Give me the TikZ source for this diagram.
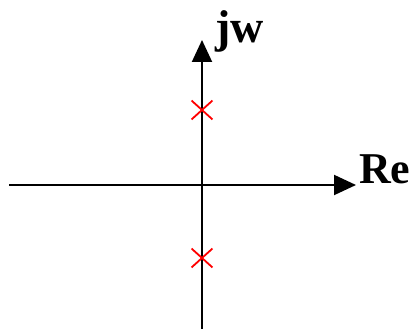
\documentclass[tikz,border=0pt]{standalone}
\usepackage{fontspec}
\setmainfont{Liberation Serif}
\usetikzlibrary{arrows.meta, shapes.misc}
\tikzset{
    x=1pt, y=1pt,
    axis/.style={line width=2pt, -{Triangle[length=22pt, width=20pt]}},
    pole/.style={cross out, draw=red, line width=1.8pt, inner sep=0pt,
                 minimum width=19pt, minimum height=17pt},
    axlbl/.style={font=\fontsize{44}{44}\selectfont\bfseries, inner sep=0pt},
}
\begin{document}
\begin{tikzpicture}
    \useasboundingbox (0,0) rectangle (416,329);

    \coordinate (west) at (9,144);
    \coordinate (east) at (356,144);
    \coordinate (south) at (202,0);
    \coordinate (north) at (202,289);
    \draw[axis] (west) -- (east);
    \draw[axis] (south) -- (north);

    \node[axlbl, anchor=base west] (re) at (359,145) {Re};
    \node[axlbl, font=\fontsize{46}{46}\selectfont\bfseries,
          anchor=base west] (jw) at (215,286) {jw};

    \node[pole] (p1) at (202,219) {};
    \node[pole] (p2) at (202,71) {};
\end{tikzpicture}
\end{document}
